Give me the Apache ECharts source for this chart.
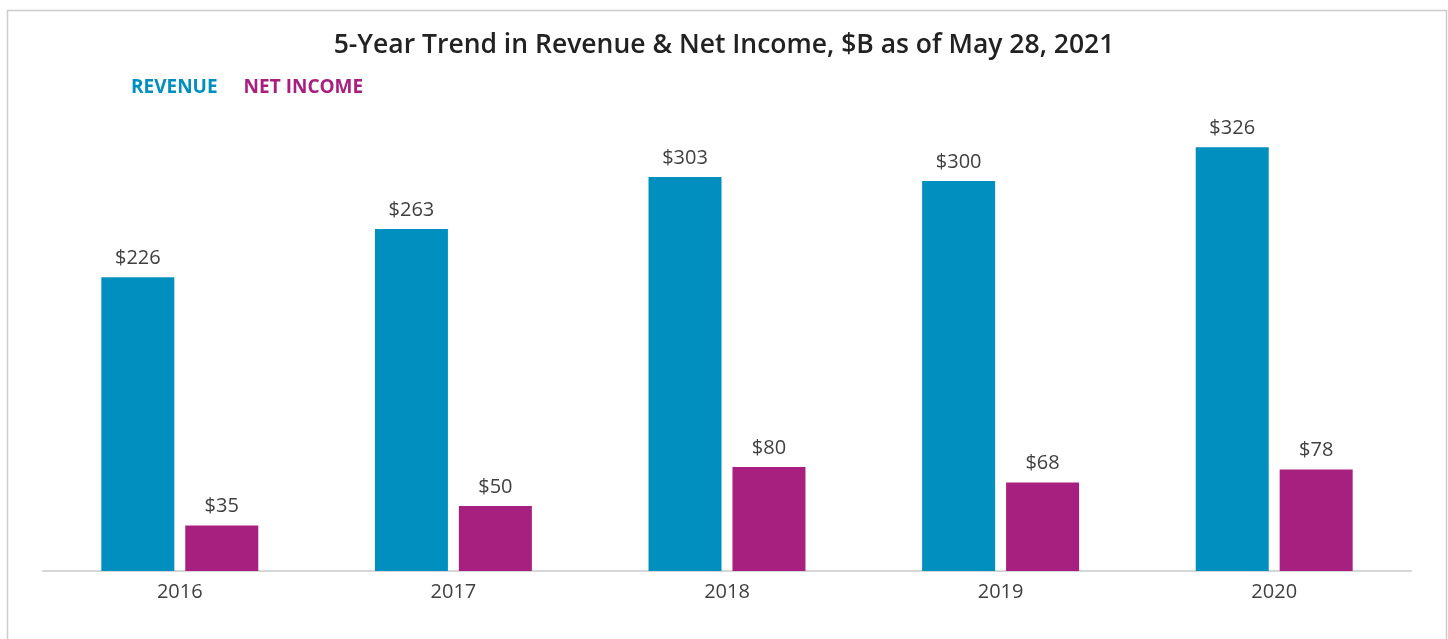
<!DOCTYPE html>
<html><head><meta charset="utf-8">
<script src="https://cdn.jsdelivr.net/npm/echarts@6/dist/echarts.min.js"></script>
<style>html,body{margin:0;padding:0;background:#fff}#c{width:1448px;height:639px}</style>
</head><body><div id="c"></div>
<script>
const categories = ['2016','2017','2018','2019','2020'];
const revenue = [226, 263, 303, 300, 326];
const netIncome = [35, 50, 80, 68, 78];
const seriesNames = ['REVENUE', 'NET INCOME'];
const colors = ['#008FBF', '#A8207F'];
const FONT = '"Open Sans", "Noto Sans", sans-serif';

const chart = echarts.init(document.getElementById('c'));
const labelCfg = {
  show: true, position: 'top', distance: 9,
  formatter: p => '$' + p.value,
  color: '#404040', fontSize: 20, fontFamily: FONT
};
chart.setOption({
  animation: false,
  backgroundColor: '#fff',
  title: {
    text: '5-Year Trend in Revenue & Net Income, $B as of May 28, 2021',
    left: 'center', top: 27,
    textStyle: { fontFamily: FONT, fontSize: 26.5, fontWeight: 600, color: '#222' }
  },
  legend: {
    left: 121, top: 73, itemWidth: 0, itemHeight: 0, itemGap: 21,
    selectedMode: false,
    data: seriesNames.map((n, i) => ({ name: n, icon: 'rect', textStyle: { color: colors[i] } })),
    textStyle: { fontFamily: FONT, fontSize: 19, fontWeight: 'bold' }
  },
  graphic: [{
    type: 'rect', shape: { x: 7.5, y: 10.5, width: 1439, height: 700 },
    style: { fill: 'none', stroke: '#cccccc', lineWidth: 1.5 }, silent: true
  }],
  grid: { left: 43, right: 37, top: 116, bottom: 68 },
  xAxis: {
    type: 'category', data: categories,
    axisLine: { lineStyle: { color: '#d6d6d6', width: 2 } },
    axisTick: { show: false },
    axisLabel: { color: '#404040', fontSize: 20, fontFamily: FONT, margin: 11 }
  },
  yAxis: { type: 'value', min: 0, max: 350, show: false, splitLine: { show: false } },
  series: [
    { name: seriesNames[0], type: 'bar', data: revenue, barWidth: 73, barGap: '15%',
      itemStyle: { color: colors[0] }, label: labelCfg },
    { name: seriesNames[1], type: 'bar', data: netIncome, barWidth: 73, barGap: '15%',
      itemStyle: { color: colors[1] }, label: labelCfg }
  ]
});
</script></body></html>
